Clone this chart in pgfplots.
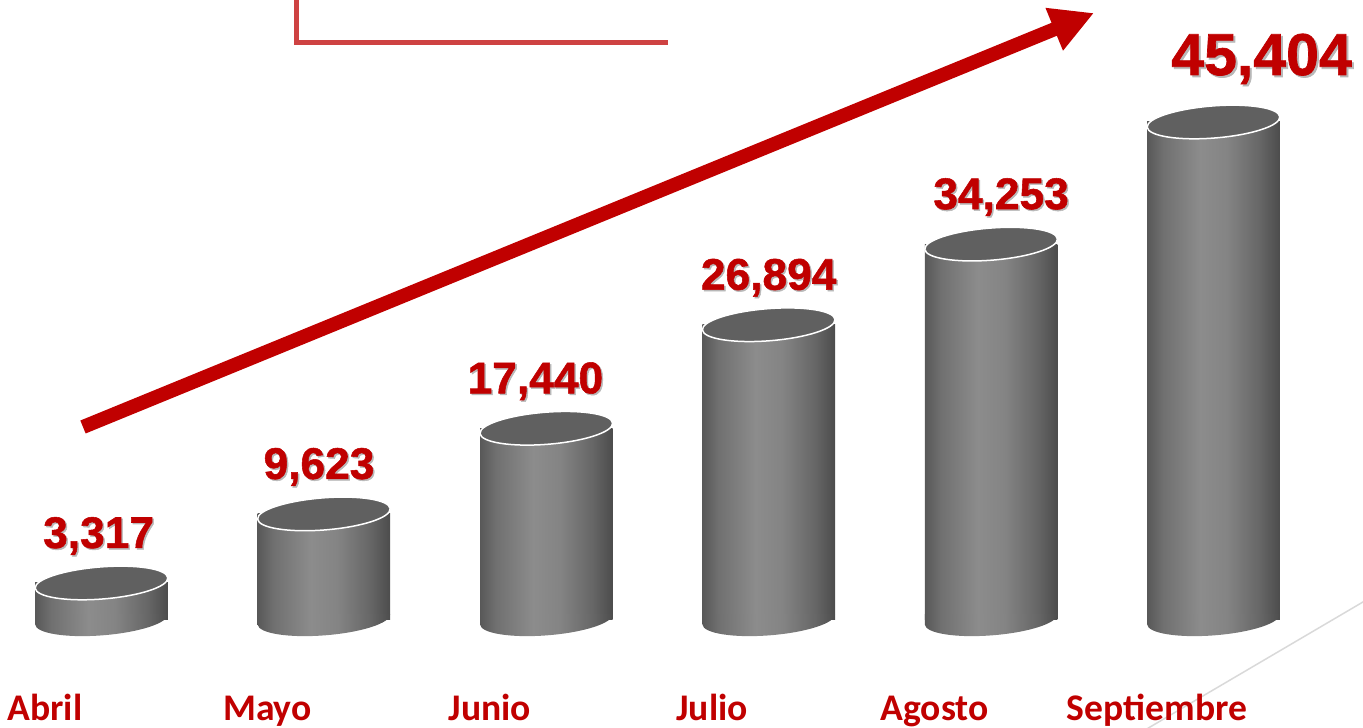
\documentclass[border=0pt]{standalone}
\usepackage{fontspec}
\setmainfont{Carlito}
\newfontfamily\valfont[FakeBold=1.2]{Liberation Sans Bold}
\usepackage{pgfplots}
\pgfplotsset{compat=1.18}
\usetikzlibrary{arrows.meta}

\definecolor{cred}{RGB}{192,0,0}
\definecolor{lred}{RGB}{206,66,66}
\definecolor{ctop}{RGB}{96,96,96}
\definecolor{cA}{RGB}{88,88,88}
\definecolor{cB}{RGB}{112,112,112}
\definecolor{cC}{RGB}{140,140,140}
\definecolor{cD}{RGB}{132,132,132}
\definecolor{cE}{RGB}{102,102,102}
\definecolor{cF}{RGB}{76,76,76}

\pgfdeclarehorizontalshading{cyl}{100bp}{color(0bp)=(cA); color(25bp)=(cA); color(31bp)=(cB); color(45bp)=(cC); color(55bp)=(cD); color(67.5bp)=(cE); color(75bp)=(cF); color(100bp)=(cF)}

% lower half of the cylinder's bottom ellipse (shaded like the side)
\pgfdeclareplotmark{cylbot}{%
  \pgfpathmoveto{\pgfpoint{-0.663cm}{-0.052cm}}%
  \pgfpatharcaxes{180}{360}{\pgfpoint{0.663cm}{0.052cm}}{\pgfpoint{-0.0126cm}{0.16cm}}%
  \pgfpathlineto{\pgfpoint{-0.663cm}{0.052cm}}%
  \pgfpathclose
  \pgfshadepath{cyl}{0}%
  \pgfusepath{discard}%
}
\pgfdeclareplotmark{cyltop}{%
  \pgfpathellipse{\pgfpointorigin}{\pgfpoint{0.663cm}{0.052cm}}{\pgfpoint{-0.0126cm}{0.16cm}}%
  \pgfusepathqfillstroke
}

\begin{document}
\begin{tikzpicture}
\begin{axis}[
  name=ax, at={(0,0)}, anchor=south west,
  width=13.63cm, height=7.27cm, scale only axis,
  xmin=-0.4564, xmax=5.6722, ymin=-9833, ymax=56542,
  hide axis, clip=false]
% decorations
\addplot[gray!30, line width=0.015cm] coordinates {(5.8381,3561) (4.4897,-12517)};
\addplot[lred, line width=0.05cm, line join=miter] coordinates {(0.8790,57000) (0.8790,52616) (2.5472,52616)};
% bars (one plot per bar so that each gets its own shading)
\pgfplotsset{cylbar/.style={ybar, bar width=1.326cm, draw=none, shade, shading=cyl}}
\addplot[cylbar] coordinates {(0,3317)};
\addplot[cylbar] coordinates {(1,9623)};
\addplot[cylbar] coordinates {(2,17440)};
\addplot[cylbar] coordinates {(3,26894)};
\addplot[cylbar] coordinates {(4,34253)};
\addplot[cylbar] coordinates {(5,45404)};
% cylinder bottoms
\addplot[only marks, mark=cylbot] coordinates {(0,0) (1,0) (2,0) (3,0) (4,0) (5,0)};
% cylinder tops
\addplot[only marks, mark=cyltop, mark options={fill=ctop, draw=white, line width=0.015cm}] coordinates {(0,3317) (1,9623) (2,17440) (3,26894) (4,34253) (5,45404)};
% arrow
\addplot[cred, line width=0.14cm, -{Triangle[length=0.43cm,width=0.43cm]}] coordinates {(-0.0832,17557) (4.4627,55355)};
% value labels: shadow
\addplot[draw=none, nodes near coords, point meta=explicit symbolic,
  every node near coord/.append style={anchor=base, yshift=0.335cm, xshift=0.015cm, inner sep=0pt, text=black!28, font=\valfont\fontsize{12.6}{14}\selectfont}]
  table[meta=lab] {
x y lab
-0.013 3317 3,317
0.978 9623 9,623
1.951 17440 17,440
3.0 26894 26,894
4.045 34253 34,253
};
\addplot[draw=none, nodes near coords, point meta=explicit symbolic,
  every node near coord/.append style={anchor=base, yshift=0.35cm, inner sep=0pt, text=cred, font=\valfont\fontsize{12.6}{14}\selectfont}]
  table[meta=lab] {
x y lab
-0.013 3317 3,317
0.978 9623 9,623
1.951 17440 17,440
3.0 26894 26,894
4.045 34253 34,253
};
\addplot[draw=none, nodes near coords, point meta=explicit symbolic,
  every node near coord/.append style={anchor=base, yshift=0.45cm, xshift=0.02cm, inner sep=0pt, text=black!28, font=\valfont\fontsize{16.8}{18}\selectfont}]
  table[meta=lab] {
x y lab
5.216 45404 45,404
};
\addplot[draw=none, nodes near coords, point meta=explicit symbolic,
  every node near coord/.append style={anchor=base, yshift=0.47cm, inner sep=0pt, text=cred, font=\valfont\fontsize{16.8}{18}\selectfont}]
  table[meta=lab] {
x y lab
5.216 45404 45,404
};
% category labels
\addplot[draw=none, nodes near coords, point meta=explicit symbolic,
  every node near coord/.append style={anchor=base, xshift=-0.565cm, inner sep=0pt, text=cred, font=\bfseries\fontsize{10.7}{12}\selectfont}]
  table[meta=lab] {
x y lab
0 -9194 Abril
1 -9194 Mayo
2 -9194 Junio
3 -9194 Julio
4 -9194 Agosto
5 -9194 Septiembre
};
\end{axis}
\pgfresetboundingbox
\path (ax.south west) rectangle (ax.north east);
\end{tikzpicture}
\end{document}
